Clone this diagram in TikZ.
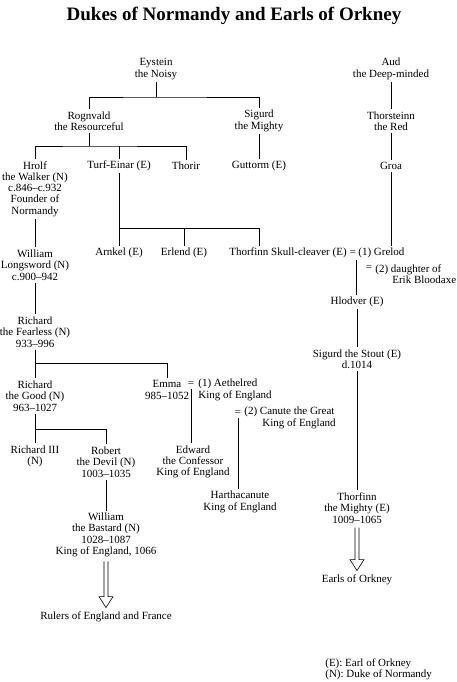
\documentclass[tikz,border=0pt]{standalone}
\usepackage{fontspec}
\setmainfont{Liberation Serif}
\usetikzlibrary{calc}

\begin{document}
\begin{tikzpicture}[x=1pt, y=-1pt, line width=0.7pt,
  every node/.style={font=\fontsize{11}{11.3}\selectfont, inner sep=2pt},
  pers/.style={align=center},
  spouse/.style={align=left, anchor=west}]
\useasboundingbox (0,0) rectangle (456,682);
% Titolo
\node (title) at (234,16) {\fontsize{19}{22}\selectfont\bfseries Dukes of Normandy and Earls of Orkney};

% Prime generazioni
\node[pers] (eystein) at (156,69) {Eystein\\the Noisy};
\node[pers] (aud) at (391,69) {Aud\\the Deep-minded};
\node[pers] (rognvald) at (89,121) {Rognvald\\the Resourceful};
\node[pers] (sigurd) at (259,121) {Sigurd\\the Mighty};
\node[pers] (thorsteinn) at (391,121) {Thorsteinn\\the Red};
\node[pers] (hrolf) at (35,189) {Hrolf\\the Walker (N)\\c.846–c.932\\Founder of\\Normandy};
\node (turf) at (119,166) {Turf-Einar (E)};
\node (thorir) at (186,166) {Thorir};
\node (guttorm) at (259,166) {Guttorm (E)};
\node (groa) at (391,166) {Groa};

% Orcadi
\node (arnkel) at (119,253) {Arnkel (E)};
\node (erlend) at (184,253) {Erlend (E)};
\node[anchor=east] (skull) at (349,253) {Thorfinn Skull-cleaver (E)};
\node (eqg) at (353,253) {=};
\node[spouse] (grelod) at (356,253) {(1) Grelod};
\node (eqd) at (369,268) {=};
\node[spouse] (daughter) at (373,274) {(2) daughter of\\\hspace*{17pt}Erik Bloodaxe};
\node (hlodver) at (357,302) {Hlodver (E)};
\node[pers] (stout) at (357,359) {Sigurd the Stout (E)\\d.1014};
\node[pers] (mighty) at (357,508) {Thorfinn\\the Mighty (E)\\1009–1065};
\node (earls) at (357,580) {Earls of Orkney};

% Normandia
\node[pers] (william) at (35,265) {William\\Longsword (N)\\c.900–942};
\node[pers] (fearless) at (35,332) {Richard\\the Fearless (N)\\933–996};
\node[pers] (good) at (35,396) {Richard\\the Good (N)\\963–1027};
\node[pers] (emma) at (167,390) {Emma\\985–1052};
\node (eqe) at (191,384) {=};
\node[spouse] (aethelred) at (196,390) {(1) Aethelred\\King of England};
\node (eqc) at (238,413) {=};
\node[spouse] (canute) at (242,418) {(2) Canute the Great\\\hspace*{18pt}King of England};
\node[pers] (richard3) at (35,456) {Richard III\\(N)};
\node[pers] (robert) at (106,462) {Robert\\the Devil (N)\\1003–1035};
\node[pers] (edward) at (193,462) {Edward\\the Confessor\\King of England};
\node[pers] (hartha) at (240,502) {Harthacanute\\King of England};
\node[pers] (bastard) at (106,535) {William\\the Bastard (N)\\1028–1087\\King of England, 1066};
\node (rulers) at (106,617) {Rulers of England and France};

% Legenda
\node[spouse] (legend) at (323,669) {(E): Earl of Orkney\\(N): Duke of Normandy};

% Linee di discendenza
\coordinate (eysbar) at (156,97);
\draw (eystein) -- (eysbar);
\draw (rognvald) |- (eysbar) -| (sigurd);
\draw (sigurd) -- (guttorm);
\draw (aud) -- (thorsteinn) -- (groa);
\draw (groa) -- (groa |- grelod.north);
\coordinate (rogbar) at (89,146);
\draw (rognvald) -- (rogbar);
\draw (hrolf) |- (rogbar) -| (thorir);
\draw (turf) -- (turf |- rogbar);
\coordinate (turfbar) at (119,228);
\draw (turf) -- (arnkel);
\draw (turfbar) -| (erlend);
\draw (turfbar) -| (skull.north -| guttorm);
\draw (grelod.south west) -- (grelod.south west |- hlodver.north);
\draw (hlodver) -- (stout) -- (mighty);
\draw (hrolf) -- (william) -- (fearless) -- (good);
\draw (good) -- (richard3);
\coordinate (fearbar) at (35,363);
\draw (fearbar) -| (emma);
\coordinate (goodbar) at (35,429);
\draw (goodbar) -| (robert);
\draw (robert) -- (bastard);
\draw (eqe.south) -- (eqe.south |- edward.north);
\draw (eqc.south) -- (eqc.south |- hartha.north);
% Frecce doppie
\foreach \src/\dst in {bastard/rulers, mighty/earls}{
  \draw[line width=0.6pt] ($(\src.south)+(-2,2)$) -- ($(\dst.north)+(-2,-13)$) -- ++(-5,0)
    -- ($(\dst.north)+(0,-2)$) -- ($(\dst.north)+(7,-13)$) -- ++(-5,0) -- ($(\src.south)+(2,2)$);
}
\end{tikzpicture}
\end{document}
